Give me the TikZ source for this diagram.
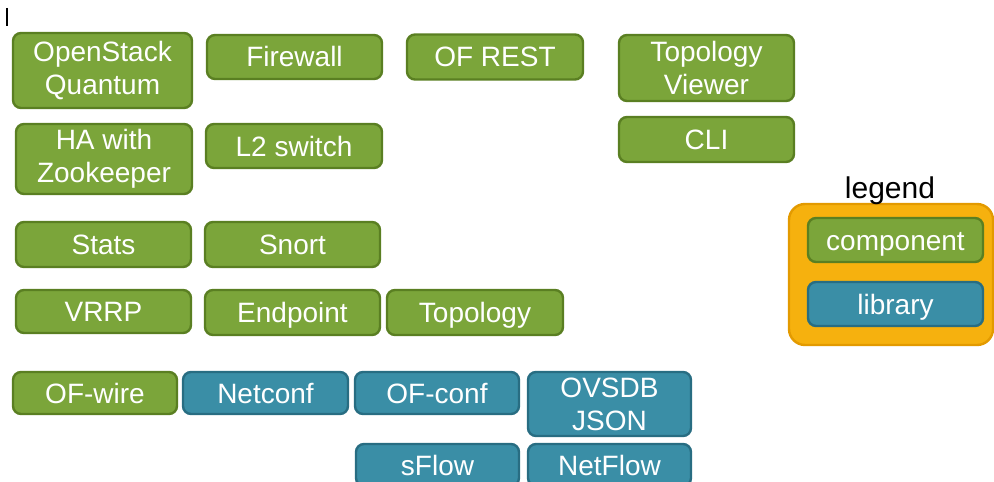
\documentclass[tikz,border=0pt]{standalone}
\usepackage{fontspec}
\setmainfont{Liberation Sans}
\usepackage{xcolor}
\usepackage{tikz}
\usetikzlibrary{positioning, shapes, calc}

\definecolor{compfill}{HTML}{7BA53A}
\definecolor{compline}{HTML}{5A7F22}
\definecolor{libfill}{HTML}{3A8EA6}
\definecolor{libline}{HTML}{286D82}
\definecolor{legfill}{HTML}{F6B10E}
\definecolor{legline}{HTML}{E39A00}

\begin{document}
\begin{tikzpicture}[x=0.5pt, y=-0.5pt,
    box/.style={rectangle, rounded corners=4pt, line width=1.2pt, align=center,
      text=white, inner sep=0pt, text height=12pt, text depth=2pt,
      font=\fontsize{14}{16.5}\selectfont},
    twoline/.style={text height=, text depth=},
    comp/.style={box, fill=compfill, draw=compline},
    lib/.style={box, fill=libfill, draw=libline}]
        \useasboundingbox (0,0) rectangle (994,481);
        \clip (0,0) rectangle (994,481);

        % stray cursor mark
        \draw[line width=1pt] (7,8) -- (7,26);

        % components
        \node[comp, twoline, minimum width=89.5pt, minimum height=37.5pt] (quantum) at (102.5,70.5) {OpenStack\\Quantum};
        \node[comp, minimum width=87.5pt, minimum height=22pt] (firewall) at (294.5,57) {Firewall};
        \node[comp, minimum width=88pt, minimum height=22.5pt] (ofrest) at (495,57) {OF REST};
        \node[comp, twoline, minimum width=87.5pt, minimum height=33pt] (topoview) at (706.5,68) {Topology\\Viewer};

        \node[comp, twoline, minimum width=88pt, minimum height=35pt] (ha) at (104,159) {HA with\\Zookeeper};
        \node[comp, minimum width=88pt, minimum height=22pt] (ltwo) at (294,146) {L2 switch};
        \node[comp, minimum width=87.5pt, minimum height=22.5pt] (cli) at (706.5,139.5) {CLI};

        \node[comp, minimum width=87.5pt, minimum height=22.5pt] (stats) at (103.5,244.5) {Stats};
        \node[comp, minimum width=87.5pt, minimum height=22.5pt] (snort) at (292.5,244.5) {Snort};

        \node[comp, minimum width=87.5pt, minimum height=21.5pt] (vrrp) at (103.5,311.5) {VRRP};
        \node[comp, minimum width=87.5pt, minimum height=22.5pt] (endpoint) at (292.5,312.5) {Endpoint};
        \node[comp, minimum width=88pt, minimum height=22.5pt] (topology) at (475,312.5) {Topology};

        % wire level
        \node[comp, minimum width=82pt, minimum height=21pt] (ofwire) at (95,393) {OF-wire};
        \node[lib, minimum width=82.5pt, minimum height=21pt] (netconf) at (265.5,393) {Netconf};
        \node[lib, minimum width=82pt, minimum height=21pt] (ofconf) at (437,393) {OF-conf};
        \node[lib, twoline, minimum width=81.5pt, minimum height=32pt] (ovsdb) at (609.5,404) {OVSDB\\JSON};
        \node[lib, minimum width=81.5pt, minimum height=21pt] (sflow) at (437.5,465) {sFlow};
        \node[lib, minimum width=81.5pt, minimum height=21pt] (netflow) at (609.5,465) {NetFlow};

        % legend
        \node[rectangle, rounded corners=8pt, line width=1.2pt, fill=legfill, draw=legline,
          minimum width=102pt, minimum height=70.5pt] (legbox) at (891,274.5) {};
        \node[font=\fontsize{15}{17}\selectfont, inner sep=0pt] (legtitle) at (890,191) {legend};
        \node[comp, minimum width=87.5pt, minimum height=22pt] (legcomp) at (895.5,240) {component};
        \node[lib, minimum width=87.5pt, minimum height=22pt] (leglib) at (895.5,304) {library};
      \end{tikzpicture}
\end{document}
